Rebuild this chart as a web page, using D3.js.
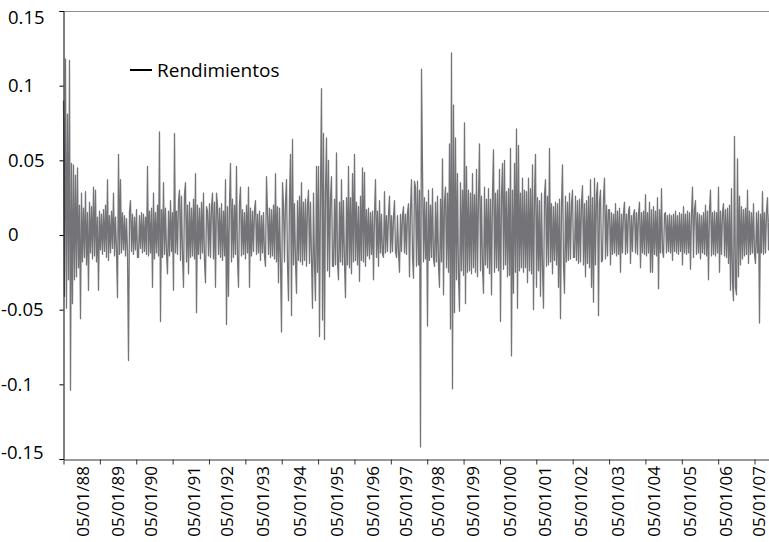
<!DOCTYPE html>
<html>
<head>
<meta charset="utf-8">
<script src="https://cdn.jsdelivr.net/npm/d3@7"></script>
<style>
  body { margin: 0; background: #fff; }
  text { font-family: "Open Sans", "Noto Sans", sans-serif; fill: #000; }
</style>
</head>
<body>
<div id="chart-area"></div>
<script>
// daily returns, one value per pixel column (1987-2007)
const returns = [
  .09,-.041,.118,-.049,.081,-.03,.117,-.104,.048,-.046,
  .047,-.03,.04,-.028,.045,-.022,.02,-.056,.028,-.018,
  .018,-.015,.029,-.02,.015,-.037,.022,-.012,.019,-.016,
  .032,-.014,.03,-.018,.012,-.037,.016,-.01,.014,-.013,
  .017,-.011,.02,-.015,.037,-.017,.013,-.012,.016,-.009,
  .028,-.014,.012,-.011,-.042,.054,-.013,.037,-.012,.015,
  -.01,.013,-.014,.011,-.012,-.084,.016,.023,-.011,.014,
  -.013,.012,-.01,.017,-.015,-.015,.013,-.009,.015,-.012,
  .014,-.011,.012,-.013,.046,-.014,.016,-.012,.018,-.035,
  .028,-.016,.015,-.012,.02,-.014,.069,-.058,.017,-.015,
  .035,-.013,.018,-.012,-.026,.016,-.014,.023,-.011,.015,
  -.037,.068,-.012,.016,-.013,.023,.03,-.017,.026,-.014,
  -.035,.028,.035,-.018,.02,-.026,.022,-.015,.018,-.014,
  .024,-.016,.041,-.052,.02,-.013,.018,-.016,.022,-.012,
  .028,-.018,-.032,.019,.016,-.014,.021,-.015,.019,.028,
  -.016,.022,-.035,.028,.02,-.013,.018,-.015,.021,-.017,
  .016,-.014,.037,-.06,.019,-.041,.022,.048,-.018,.024,
  -.015,.02,-.013,.046,-.016,-.035,.021,.032,-.014,.017,
  -.013,.015,-.016,.02,-.012,.032,-.035,.018,-.014,.016,
  -.011,.017,.023,-.013,.014,-.012,.016,-.017,.013,-.012,
  .015,-.014,-.021,.039,.016,-.013,.018,-.015,.017,-.014,
  .02,-.016,.041,-.018,.019,-.032,.018,-.017,-.065,.035,
  .02,-.018,.022,.037,-.02,-.044,.025,.054,-.054,.064,
  -.02,.021,-.018,-.039,.023,-.017,.026,-.018,.035,-.02,
  .022,-.017,.024,-.021,.02,.03,-.019,.022,-.016,-.049,
  .028,-.02,-.044,.046,-.025,.046,-.068,.03,.098,-.057,
  .068,-.07,.03,.065,-.024,.05,-.028,.025,.039,-.021,
  -.021,.024,-.02,.055,-.019,-.03,.022,-.018,.037,-.02,
  .023,-.019,-.042,.025,-.02,.046,-.022,.025,-.026,.041,
  -.018,.054,-.017,.022,-.02,.019,-.031,.026,-.017,.045,
  -.018,.042,-.021,.017,-.014,.018,-.016,.015,-.013,.016,
  -.03,.014,.037,-.015,.016,-.021,.023,-.012,.014,-.013,
  -.015,.029,-.012,.013,-.011,.014,.026,-.012,.013,-.011,
  .012,.023,-.011,-.015,.013,-.012,-.025,.014,-.011,.013,
  .019,-.012,.014,-.013,.015,.021,-.028,.017,.037,-.014,
  -.029,.036,.032,-.021,.036,-.02,.03,-.142,.111,.044,
  -.018,.025,-.016,.022,-.061,.03,-.017,.02,-.015,.031,
  -.016,-.021,.022,-.018,.026,-.02,-.035,.024,-.018,.051,
  -.04,.022,.032,-.022,.028,-.025,.061,-.063,.122,-.103,
  .087,-.052,.065,-.03,.041,-.028,-.051,.035,-.024,.03,
  -.027,.075,-.046,.046,-.025,.03,-.024,.028,-.026,.041,
  -.022,.027,-.025,.044,-.028,.025,.061,-.024,.026,-.022,
  -.039,.032,-.02,.024,-.022,.031,-.026,.024,-.04,.028,
  .057,-.025,.028,-.022,.03,-.024,.044,-.058,.026,.048,
  -.023,.05,-.02,.029,-.028,.031,-.027,.058,-.081,.03,
  -.039,.048,-.025,.071,-.049,.06,-.024,.028,-.022,.038,
  -.025,.03,-.022,.029,-.032,.038,-.024,.031,-.026,.047,
  -.05,.026,.054,-.035,.025,-.024,.023,-.041,.028,-.022,
  -.049,.027,.037,-.021,.026,-.02,.058,-.018,.021,-.026,
  .019,-.017,.022,-.02,.021,-.035,.024,-.056,.02,.047,
  -.02,-.039,.026,-.018,.022,-.017,.028,-.016,.021,.03,
  -.015,-.015,.026,-.017,.023,-.019,.024,-.018,.022,.033,
  -.02,.021,-.028,.023,-.019,.026,-.022,.037,-.035,.025,
  -.045,.038,-.02,.027,.035,-.054,.022,.03,-.018,-.017,
  .025,.038,-.016,.02,-.014,.017,.017,-.02,.015,-.013,
  .014,-.012,.021,-.014,.016,-.013,.018,-.025,.014,-.012,
  .015,.022,-.013,.014,-.012,.016,.019,-.019,.013,-.011,
  .014,.017,-.012,.015,-.013,.014,.022,-.022,.015,-.012,
  .016,-.013,.027,-.014,.015,-.012,.022,-.025,.017,-.025,
  .019,-.013,.016,-.014,.025,-.036,.017,-.012,.031,-.011,
  -.015,.014,.015,-.012,.013,-.011,.014,-.012,.013,-.017,
  .014,-.011,.016,-.012,.013,-.013,.015,-.011,.014,-.02,
  .019,-.012,.014,-.013,.016,-.012,.015,-.023,.014,.032,
  -.015,.017,.023,-.013,.015,-.012,.014,-.016,.013,-.012,
  .015,-.013,.02,-.014,.016,-.03,.017,.03,-.014,.015,
  -.013,.016,-.014,.015,-.012,.032,-.025,.016,-.013,.015,
  .021,-.014,.017,-.015,.018,-.019,.02,-.037,.031,-.032,
  -.044,.066,-.035,-.04,.051,-.028,.026,-.02,.019,-.016,
  .017,-.014,.018,-.013,.03,-.019,.016,-.013,.015,-.012,
  .021,-.013,-.019,.015,-.012,.016,-.059,.014,-.012,.029,
  -.013,.015,-.012,.016,.025,-.01,.014
];

// category labels and the column where each date falls
const dateLabels = ["05/01/88","05/01/89","05/01/90","05/01/91","05/01/92","05/01/93","05/01/94",
  "05/01/95","05/01/96","05/01/97","05/01/98","05/01/99","05/01/00","05/01/01","05/01/02",
  "05/01/03","05/01/04","05/01/05","05/01/06","05/01/07"];
const labelIdx = [19.5, 54, 87, 130.5, 163, 199.5, 236.5, 273.5, 309.5, 342.5,
  374.5, 409.5, 446.5, 481.5, 517, 554.5, 590.5, 626.5, 662.5, 695];

const yTicks = [-0.15, -0.1, -0.05, 0, 0.05, 0.1, 0.15];
const tickEvery = 36.37; // columns between x tick marks

const W = 769, H = 542;
const MARGIN = { LEFT: 63, TOP: 11, BOTTOM: 83 };

const svg = d3.select("#chart-area").append("svg")
  .attr("width", W)
  .attr("height", H);

svg.append("rect").attr("width", W).attr("height", H).attr("fill", "#fff");

const x = d3.scaleLinear()
  .domain([0, returns.length - 1])
  .range([MARGIN.LEFT + 0.5, W + 0.5]);

const y = d3.scaleLinear()
  .domain([-0.15, 0.15])
  .range([H - MARGIN.BOTTOM, MARGIN.TOP]);

// top border
svg.append("line")
  .attr("x1", MARGIN.LEFT).attr("x2", W)
  .attr("y1", y(0.15) + 0.5).attr("y2", y(0.15) + 0.5)
  .attr("stroke", "#8c8c8c");

// the series
const line = d3.line()
  .x((d, i) => x(i))
  .y(d => y(d));

svg.append("path")
  .datum(returns)
  .attr("fill", "none")
  .attr("stroke", "#747478")
  .attr("stroke-width", 1.3)
  .attr("stroke-linejoin", "round")
  .attr("d", line);

// y axis
const yAxis = svg.append("g")
  .attr("transform", `translate(${MARGIN.LEFT + 0.5},0)`)
  .call(d3.axisLeft(y).tickValues(yTicks).tickSize(4).tickFormat(""));
yAxis.select(".domain").attr("stroke", "#000");
yAxis.selectAll(".tick line").attr("stroke", "#000");

svg.append("g").selectAll("text")
  .data(yTicks)
  .enter().append("text")
  .attr("x", d => d < 0 ? 1 : 8)
  .attr("y", d => Math.min(Math.max(y(d), 18), 453))
  .attr("dy", "0.35em")
  .attr("font-size", 18.5)
  .text(d => d === 0 ? "0" : String(d));

// x axis
const xTicks = d3.range(0, returns.length, tickEvery);
const xAxis = svg.append("g")
  .attr("transform", `translate(0,${y(-0.15) + 0.5})`)
  .call(d3.axisBottom(x).tickValues(xTicks).tickSize(5).tickFormat("").tickSizeOuter(0));
xAxis.select(".domain").attr("stroke", "#333");
xAxis.selectAll(".tick line").attr("stroke", "#333");

svg.append("g").selectAll("text")
  .data(dateLabels)
  .enter().append("text")
  .attr("transform", (d, i) => `translate(${x(labelIdx[i])},${y(-0.15) + 7}) rotate(-90)`)
  .attr("text-anchor", "end")
  .attr("dy", "0.36em")
  .attr("font-size", 17)
  .text(d => d);

// legend
svg.append("line")
  .attr("x1", 130).attr("x2", 152)
  .attr("y1", 70).attr("y2", 70)
  .attr("stroke", "#000")
  .attr("stroke-width", 2);
svg.append("text")
  .attr("x", 157)
  .attr("y", 70)
  .attr("dy", "0.35em")
  .attr("font-size", 19)
  .text("Rendimientos");
</script>
</body>
</html>
